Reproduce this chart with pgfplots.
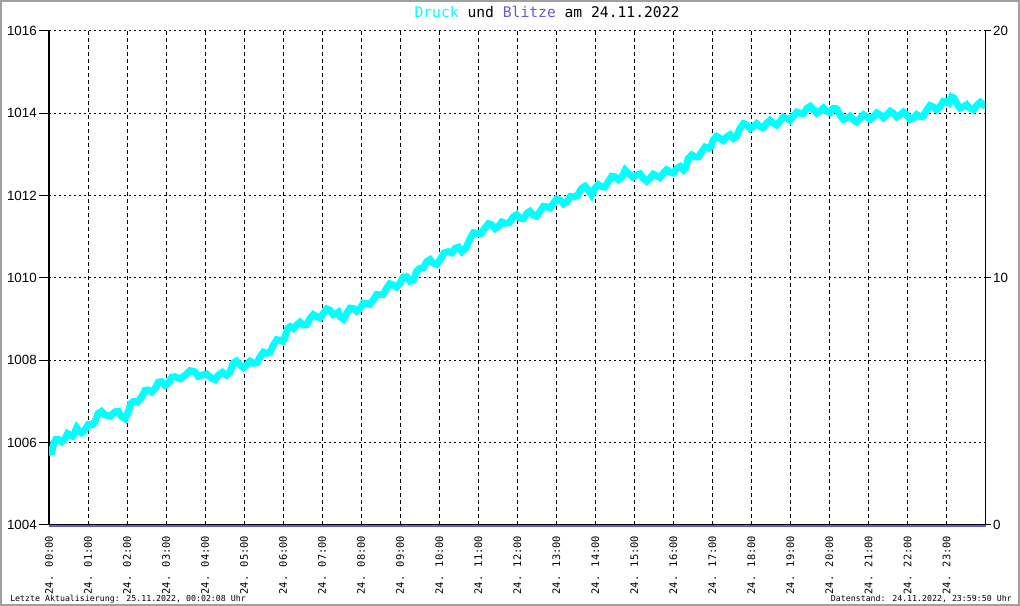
\documentclass[border=0pt]{standalone}
\usepackage{fontspec}
\usepackage{pgfplots}
\pgfplotsset{compat=1.18}
\setmainfont{DejaVu Sans Mono}
\newfontfamily\monofont{DejaVu Sans Mono}
\newfontfamily\labfont{Liberation Sans}
\definecolor{druck}{RGB}{0,255,255}
\definecolor{blitz}{RGB}{106,90,205}
\definecolor{framec}{RGB}{160,160,160}
\begin{document}
\begin{tikzpicture}
\useasboundingbox (0,0) rectangle (765pt,454.5pt);
\fill[white] (0,0) rectangle (765pt,454.5pt);
\draw[framec, line width=1.5pt] (0.75pt,0.75pt) rectangle (764.25pt,453.75pt);
\begin{axis}[
 at={(36.75pt,60.75pt)}, anchor=south west,
 scale only axis, width=702.4pt, height=370.5pt,
 xmin=0, xmax=24, ymin=1004, ymax=1016,
 axis x line*=bottom, axis y line*=left,
 axis line style={line width=0.8pt, -},
 xtick={0,...,23},
 xticklabels={24. 00:00,24. 01:00,24. 02:00,24. 03:00,24. 04:00,24. 05:00,24. 06:00,24. 07:00,24. 08:00,24. 09:00,24. 10:00,24. 11:00,24. 12:00,24. 13:00,24. 14:00,24. 15:00,24. 16:00,24. 17:00,24. 18:00,24. 19:00,24. 20:00,24. 21:00,24. 22:00,24. 23:00},
 x tick label style={rotate=90, anchor=east, font=\monofont\fontsize{7.8}{9}\selectfont, inner sep=0.5pt},
 ytick={1004,1006,...,1016},
 y tick label style={font=\labfont\fontsize{10}{12}\selectfont, inner sep=1.5pt},
 /pgf/number format/assume math mode=true,
 /pgf/number format/set thousands separator={},
 tick align=outside,
 major tick length=7.5pt,
 x tick style={draw=none},
 y tick style={black, line width=0.75pt},
 grid=major,
 x grid style={black, line width=0.75pt, dash pattern=on 3pt off 2.25pt},
 y grid style={black, line width=0.75pt, dash pattern=on 1.5pt off 2.25pt},
]
\addplot[druck, line width=5.2pt, sharp plot, line join=miter, miter limit=2] coordinates {
(0,1005.82) (0.055,1005.72) (0.11,1005.94) (0.175,1006.08) (0.24,1006.08) (0.325,1006.02) (0.41,1006.10) (0.475,1006.22)
(0.54,1006.19) (0.605,1006.16) (0.67,1006.27) (0.71,1006.36) (0.75,1006.31) (0.835,1006.24) (0.92,1006.31) (1.005,1006.44)
(1.09,1006.43) (1.175,1006.50) (1.26,1006.71) (1.35,1006.76) (1.44,1006.67) (1.565,1006.64) (1.69,1006.75) (1.775,1006.76)
(1.86,1006.63) (1.945,1006.58) (2.03,1006.75) (2.095,1006.95) (2.16,1007.00) (2.27,1006.99) (2.38,1007.12) (2.46,1007.27)
(2.54,1007.28) (2.63,1007.23) (2.72,1007.32) (2.805,1007.47) (2.89,1007.48) (2.975,1007.39) (3.06,1007.44) (3.145,1007.59)
(3.23,1007.60) (3.36,1007.55) (3.49,1007.64) (3.615,1007.75) (3.74,1007.72) (3.825,1007.61) (3.91,1007.64) (4.04,1007.67)
(4.17,1007.56) (4.255,1007.53) (4.34,1007.64) (4.445,1007.71) (4.55,1007.64) (4.635,1007.71) (4.72,1007.93) (4.805,1007.98)
(4.89,1007.89) (4.98,1007.82) (5.07,1007.89) (5.155,1007.98) (5.24,1007.93) (5.325,1007.94) (5.41,1008.09) (5.495,1008.20)
(5.58,1008.17) (5.665,1008.20) (5.75,1008.37) (5.835,1008.50) (5.92,1008.49) (5.985,1008.46) (6.05,1008.57) (6.115,1008.77)
(6.18,1008.82) (6.265,1008.77) (6.35,1008.86) (6.435,1008.93) (6.52,1008.86) (6.605,1008.87) (6.69,1009.02) (6.775,1009.11)
(6.86,1009.06) (6.945,1009.03) (7.03,1009.14) (7.115,1009.25) (7.20,1009.22) (7.285,1009.11) (7.37,1009.14) (7.415,1009.17)
(7.46,1009.06) (7.545,1009.00) (7.63,1009.14) (7.715,1009.27) (7.80,1009.26) (7.885,1009.19) (7.97,1009.26) (8.055,1009.39)
(8.14,1009.38) (8.225,1009.36) (8.31,1009.47) (8.395,1009.60) (8.48,1009.59) (8.565,1009.60) (8.65,1009.75) (8.735,1009.86)
(8.82,1009.83) (8.905,1009.78) (8.99,1009.87) (9.08,1010.02) (9.17,1010.03) (9.255,1009.92) (9.34,1009.95) (9.425,1010.17)
(9.51,1010.24) (9.595,1010.25) (9.68,1010.40) (9.765,1010.45) (9.85,1010.36) (9.935,1010.33) (10.02,1010.44) (10.125,1010.61)
(10.23,1010.64) (10.32,1010.61) (10.41,1010.72) (10.495,1010.75) (10.58,1010.64) (10.685,1010.73) (10.79,1010.96) (10.875,1011.10)
(10.96,1011.09) (11.065,1011.08) (11.17,1011.21) (11.26,1011.32) (11.35,1011.29) (11.43,1011.20) (11.51,1011.25) (11.60,1011.36)
(11.69,1011.33) (11.795,1011.34) (11.90,1011.49) (11.985,1011.54) (12.07,1011.45) (12.155,1011.44) (12.24,1011.57) (12.325,1011.62)
(12.41,1011.53) (12.495,1011.50) (12.58,1011.61) (12.67,1011.74) (12.76,1011.73) (12.84,1011.70) (12.92,1011.81) (13.01,1011.92)
(13.10,1011.89) (13.185,1011.80) (13.27,1011.85) (13.355,1011.98) (13.44,1011.97) (13.545,1012.01) (13.65,1012.18) (13.735,1012.23)
(13.82,1012.14) (13.905,1012.02) (13.99,1012.18) (14.075,1012.27) (14.16,1012.22) (14.245,1012.21) (14.33,1012.34) (14.42,1012.47)
(14.51,1012.46) (14.595,1012.39) (14.68,1012.46) (14.765,1012.62) (14.85,1012.54) (14.955,1012.45) (15.06,1012.50) (15.145,1012.53)
(15.23,1012.42) (15.315,1012.35) (15.40,1012.42) (15.485,1012.52) (15.57,1012.48) (15.655,1012.44) (15.74,1012.54) (15.825,1012.63)
(15.91,1012.58) (16.00,1012.55) (16.09,1012.66) (16.175,1012.71) (16.26,1012.62) (16.32,1012.69) (16.38,1012.90) (16.47,1012.99)
(16.56,1012.94) (16.645,1012.94) (16.73,1013.07) (16.815,1013.18) (16.90,1013.15) (16.96,1013.18) (17.02,1013.35) (17.11,1013.44)
(17.20,1013.39) (17.285,1013.34) (17.37,1013.43) (17.455,1013.48) (17.54,1013.39) (17.625,1013.45) (17.71,1013.64) (17.795,1013.75)
(17.88,1013.72) (17.965,1013.63) (18.05,1013.68) (18.135,1013.75) (18.22,1013.68) (18.305,1013.65) (18.39,1013.76) (18.475,1013.83)
(18.56,1013.76) (18.645,1013.71) (18.73,1013.80) (18.82,1013.91) (18.91,1013.88) (18.99,1013.83) (19.07,1013.92) (19.16,1014.03)
(19.25,1014.00) (19.335,1013.99) (19.42,1014.12) (19.505,1014.17) (19.59,1014.08) (19.675,1014.00) (19.76,1014.06) (19.845,1014.13)
(19.93,1014.05) (20.015,1014.02) (20.10,1014.12) (20.185,1014.11) (20.27,1013.96) (20.355,1013.85) (20.44,1013.88) (20.525,1013.93)
(20.61,1013.84) (20.695,1013.79) (20.78,1013.88) (20.87,1013.97) (20.96,1013.92) (21.045,1013.85) (21.13,1013.92) (21.215,1014.01)
(21.30,1013.96) (21.385,1013.89) (21.47,1013.96) (21.555,1014.05) (21.64,1014.00) (21.725,1013.91) (21.81,1013.96) (21.895,1014.03)
(21.98,1013.96) (22.065,1013.85) (22.15,1013.88) (22.235,1013.97) (22.32,1013.92) (22.405,1013.93) (22.49,1014.08) (22.575,1014.19)
(22.66,1014.16) (22.745,1014.09) (22.83,1014.16) (22.915,1014.29) (23.00,1014.28) (23.065,1014.25) (23.13,1014.40) (23.195,1014.37)
(23.26,1014.24) (23.345,1014.13) (23.43,1014.16) (23.515,1014.21) (23.60,1014.12) (23.69,1014.09) (23.78,1014.20) (23.865,1014.27)
(23.95,1014.20) (24.00,1014.20)
};
\end{axis}
\begin{axis}[
 at={(36.75pt,60.75pt)}, anchor=south west,
 scale only axis, width=702.4pt, height=370.5pt,
 xmin=0, xmax=24, ymin=0, ymax=20,
 hide x axis, axis y line*=right,
 axis line style={line width=0.8pt, -},
 ytick={0,10,20},
 y tick label style={font=\labfont\fontsize{10}{12}\selectfont, inner sep=1.5pt},
 /pgf/number format/assume math mode=true,
 tick align=outside,
 major tick length=4pt,
 y tick style={black, line width=0.75pt},
 clip=false,
]
\addplot[blitz, line width=1.3pt, yshift=-1pt] coordinates {(0,0) (24,0)};
\end{axis}
\node[anchor=base, font=\monofont\fontsize{11}{13}\selectfont] at (410.25pt,441pt) {\textcolor{druck}{Druck} und \textcolor{blitz}{Blitze} am 24.11.2022};
\node[anchor=base west, inner sep=0pt, font=\monofont\fontsize{6.2}{7}\selectfont] at (7.5pt,3pt) {Letzte Aktualisierung: 25.11.2022, 00:02:08 Uhr};
\node[anchor=base east, inner sep=0pt, font=\monofont\fontsize{6.2}{7}\selectfont] at (759pt,3pt) {Datenstand: 24.11.2022, 23:59:50 Uhr};
\end{tikzpicture}
\end{document}
